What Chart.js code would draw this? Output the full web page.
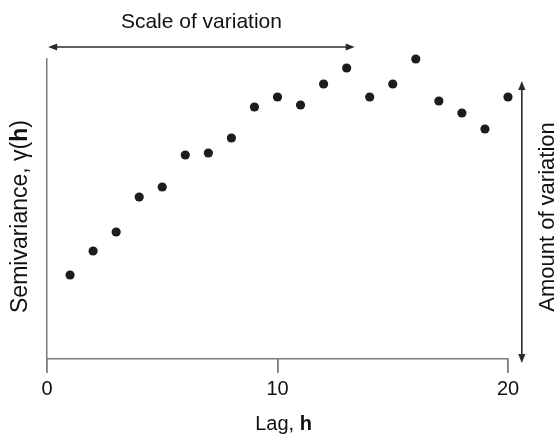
<!DOCTYPE html>
<html><head><meta charset="utf-8">
<script src="https://cdn.jsdelivr.net/npm/chart.js@4"></script>
<style>html,body{margin:0;padding:0;background:#fff}#wrap{width:557px;height:436px}</style>
</head><body><div id="wrap"><canvas id="c" width="557" height="436"></canvas></div>
<script>
// ---- data ----
const lags = [1,2,3,4,5,6,7,8,9,10,11,12,13,14,15,16,17,18,19,20];
const semivariance = [84,108,127,162,172,204,206,221,252,262,254,275,291,262,275,300,258,246,230,262];
const xTickValues = [0,10,20];
const xTitleParts = [['Lag, ', false], ['h', true]];
const yTitleParts = [['Semivariance, \u03B3(', false], ['h', true], [')', false]];
const scaleText = 'Scale of variation';
const amountText = 'Amount of variation';
// annotation arrows in data units: [x1, y1, x2, y2]
const scaleArrow = [0.05, 312, 13.35, 312];
const amountArrow = [20.6, 278, 20.6, -4];

const FONT = '"Liberation Sans", Arial, Helvetica, sans-serif';
const AXIS = '#7c7c7c';
const INK = '#2a2a2a';
const TICK_LEN = 14;

function mixedWidth(ctx, parts, size) {
  let w = 0;
  for (const [t, b] of parts) { ctx.font = (b ? 'bold ' : '') + size + 'px ' + FONT; w += ctx.measureText(t).width; }
  return w;
}
function drawMixed(ctx, parts, size, cx, cy) {
  let x = cx - mixedWidth(ctx, parts, size) / 2;
  ctx.textAlign = 'left'; ctx.textBaseline = 'alphabetic';
  for (const [t, b] of parts) { ctx.font = (b ? 'bold ' : '') + size + 'px ' + FONT; ctx.fillText(t, x, cy); x += ctx.measureText(t).width; }
}
function arrowHead(ctx, x, y, ang) {
  const L = 9, W = 3.6;
  ctx.beginPath();
  ctx.moveTo(x, y);
  ctx.lineTo(x - L * Math.cos(ang) + W * Math.sin(ang), y - L * Math.sin(ang) - W * Math.cos(ang));
  ctx.lineTo(x - L * Math.cos(ang) - W * Math.sin(ang), y - L * Math.sin(ang) + W * Math.cos(ang));
  ctx.closePath(); ctx.fill();
}
function doubleArrow(ctx, xs, ys, a) {
  const x1 = xs.getPixelForValue(a[0]), y1 = ys.getPixelForValue(a[1]);
  const x2 = xs.getPixelForValue(a[2]), y2 = ys.getPixelForValue(a[3]);
  const ang = Math.atan2(y2 - y1, x2 - x1);
  ctx.strokeStyle = INK; ctx.fillStyle = INK; ctx.lineWidth = 1.6;
  ctx.beginPath();
  ctx.moveTo(x1 + 6 * Math.cos(ang), y1 + 6 * Math.sin(ang));
  ctx.lineTo(x2 - 6 * Math.cos(ang), y2 - 6 * Math.sin(ang));
  ctx.stroke();
  arrowHead(ctx, x2, y2, ang);
  arrowHead(ctx, x1, y1, ang + Math.PI);
}

const annot = {
  id: 'annot',
  afterDraw(chart) {
    const ctx = chart.ctx, xs = chart.scales.x, ys = chart.scales.y;
    ctx.save();
    ctx.fillStyle = AXIS;
    const yb = chart.chartArea.bottom;
    for (const v of xTickValues) {
      const px = Math.round(xs.getPixelForValue(v));
      ctx.fillRect(px - 1, yb - 1, 1.6, TICK_LEN + 1);
    }
    doubleArrow(ctx, xs, ys, scaleArrow);
    doubleArrow(ctx, xs, ys, amountArrow);
    ctx.fillStyle = '#111';
    const sx = (xs.getPixelForValue(scaleArrow[0]) + xs.getPixelForValue(scaleArrow[2])) / 2;
    drawMixed(ctx, [[scaleText, false]], 21, sx, 28);
    drawMixed(ctx, xTitleParts, 20, 283.5, 430);
    ctx.save(); ctx.translate(27, 216.5); ctx.rotate(-Math.PI / 2);
    drawMixed(ctx, yTitleParts, 23, 0, 0); ctx.restore();
    ctx.save(); ctx.translate(554, 217); ctx.rotate(-Math.PI / 2);
    drawMixed(ctx, [[amountText, false]], 22, 0, 0); ctx.restore();
    ctx.restore();
  }
};

new Chart(document.getElementById('c'), {
  type: 'scatter',
  data: { datasets: [{
    data: lags.map((l, i) => ({x: l, y: semivariance[i]})),
    backgroundColor: '#1c1c1c', borderWidth: 0, pointRadius: 4.6, clip: false
  }]},
  options: {
    responsive: false, animation: false, devicePixelRatio: 1,
    layout: { padding: { top: 59, right: 49, bottom: 0, left: 0 } },
    plugins: { legend: { display: false }, tooltip: { enabled: false } },
    scales: {
      x: {
        type: 'linear', min: 0, max: 20,
        afterBuildTicks: s => { s.ticks = xTickValues.map(v => ({value: v})); },
        afterFit: s => { s.height = 77; },
        ticks: { color: '#111', padding: 4, font: { family: FONT, size: 20 }, maxRotation: 0 },
        grid: { drawOnChartArea: false, drawTicks: true, tickLength: TICK_LEN, color: AXIS, lineWidth: 1.5 },
        border: { display: true, color: AXIS, width: 1.5 }
      },
      y: {
        min: 0, max: 300,
        afterFit: s => { s.width = 47; },
        ticks: { display: false },
        grid: { display: false },
        border: { display: true, color: AXIS, width: 1.5 }
      }
    }
  },
  plugins: [annot]
});
</script>
</body></html>
